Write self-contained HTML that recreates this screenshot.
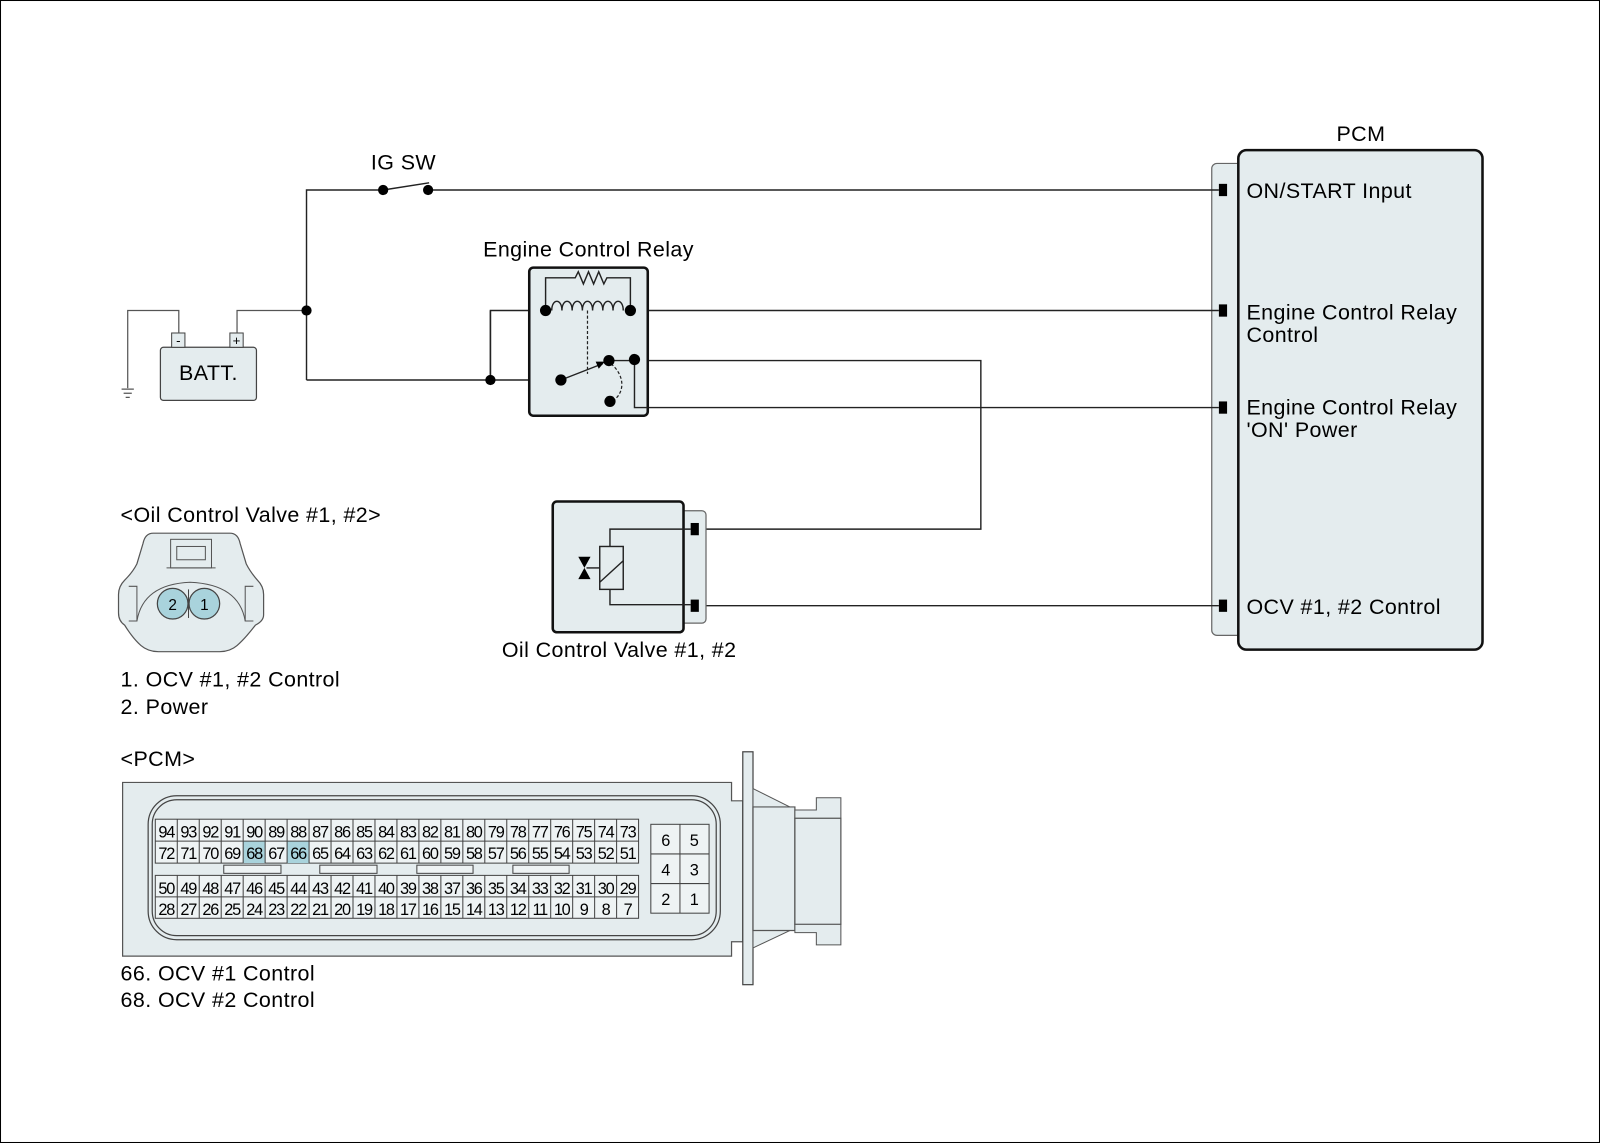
<!DOCTYPE html>
<html><head><meta charset="utf-8"><style>
html,body{margin:0;padding:0;background:#fff}
svg{display:block}
text{font-family:"Liberation Sans",Arial,sans-serif;fill:#000}
.t{font-size:21px;letter-spacing:0.4px}
</style></head><body>
<svg width="1600" height="1143" viewBox="0 0 1566 1119" preserveAspectRatio="none" xmlns="http://www.w3.org/2000/svg">
<rect x="0.5" y="0.5" width="1565" height="1118" fill="#fff" stroke="#000" stroke-width="1"/>

<!-- PCM -->
<text class="t" x="1332" y="138" text-anchor="middle">PCM</text>
<rect x="1186" y="160" width="30" height="462" rx="5" fill="#e4ecee" stroke="#666" stroke-width="1.2"/>
<rect x="1212" y="147" width="239" height="489" rx="8" fill="#e4ecee" stroke="#111" stroke-width="2.5"/>
<g fill="#000">
<rect x="1193" y="180" width="8" height="12"/>
<rect x="1193" y="298" width="8" height="12"/>
<rect x="1193" y="393" width="8" height="12"/>
<rect x="1193" y="587" width="8" height="12"/>
</g>
<g class="t">
<text class="t" x="1220" y="194">ON/START Input</text>
<text class="t" x="1220" y="313">Engine Control Relay</text>
<text class="t" x="1220" y="335">Control</text>
<text class="t" x="1220" y="406">Engine Control Relay</text>
<text class="t" x="1220" y="428">'ON' Power</text>
<text class="t" x="1220" y="601">OCV #1, #2 Control</text>
<text class="t" x="363" y="166">IG SW</text>
<text class="t" x="576" y="251" text-anchor="middle">Engine Control Relay</text>
<text class="t" x="606" y="643" text-anchor="middle">Oil Control Valve #1, #2</text>
<text class="t" x="118" y="511">&lt;Oil Control Valve #1, #2&gt;</text>
<text class="t" x="118" y="672">1. OCV #1, #2 Control</text>
<text class="t" x="118" y="699">2. Power</text>
<text class="t" x="118" y="750">&lt;PCM&gt;</text>
<text class="t" x="118" y="960">66. OCV #1 Control</text>
<text class="t" x="118" y="986">68. OCV #2 Control</text>
</g>

<!-- Battery -->
<rect x="157" y="340" width="94" height="52" rx="3" fill="#e4ecee" stroke="#444" stroke-width="1.2"/>
<text class="t" x="204" y="372" text-anchor="middle">BATT.</text>
<rect x="168" y="326" width="13" height="14" fill="#e4ecee" stroke="#444"/>
<rect x="225" y="326" width="13" height="14" fill="#e4ecee" stroke="#444"/>
<text x="174.5" y="338" font-size="13" text-anchor="middle">-</text>
<text x="231.5" y="338" font-size="13" text-anchor="middle">+</text>
<g stroke="#555" stroke-width="1.2" fill="none">
<path d="M175 326V304H125V380"/>
<path d="M119 381H131M121 385H129M123 389H127"/>
<path d="M232 326V304H300"/>
</g>

<!-- wires -->
<g stroke="#222" stroke-width="1.4" fill="none">
<path d="M300 372V186H375"/>
<path d="M375 186L420 179"/>
<path d="M419 186H1193"/>
<path d="M300 372H549"/>
<path d="M480 372V304H534"/>
<path d="M617 304H1193"/>
<path d="M596 353H960V518H680"/>
<path d="M621 352V399H1193"/>
<path d="M680 593H1193"/>
</g>

<!-- relay -->
<rect x="518" y="262" width="116" height="145" rx="4" fill="#e4ecee" stroke="#111" stroke-width="2.5"/>
<g stroke="#222" stroke-width="1.4" fill="none">
<path d="M480 304V372"/>
<path d="M534 304V272H563L566 266L571 278L576 266L581 278L586 266L591 278L594 272H617V304"/>
<path d="M540 304c0-12 10-12 10 0c0-12 10-12 10 0c0-12 10-12 10 0c0-12 10-12 10 0c0-12 10-12 10 0c0-12 10-12 10 0c0-12 10-12 10 0"/>
<path d="M575 304V366" stroke-dasharray="3,2" stroke-width="1.2"/>
<path d="M549 372L590 356"/>
<path d="M598 356C612 368 612 385 599 393" stroke-dasharray="3,2" stroke-width="1.2"/>
<path d="M596 353H621V399H634"/>
</g>
<path d="M592 354L583 354L586 361Z" fill="#000"/>
<g fill="#000">
<circle cx="300" cy="304" r="5"/>
<circle cx="375" cy="186" r="5"/>
<circle cx="419" cy="186" r="5"/>
<circle cx="480" cy="372" r="5"/>
<circle cx="534" cy="304" r="5.5"/>
<circle cx="617" cy="304" r="5.5"/>
<circle cx="549" cy="372" r="5.5"/>
<circle cx="596" cy="353" r="5.5"/>
<circle cx="621" cy="352" r="5.5"/>
<circle cx="597" cy="393" r="5.5"/>
</g>

<!-- OCV -->
<rect x="664" y="500" width="27" height="110" rx="4" fill="#e4ecee" stroke="#666" stroke-width="1.2"/>
<rect x="541" y="491" width="128" height="128" rx="4" fill="#e4ecee" stroke="#111" stroke-width="2.5"/>
<rect x="676" y="512" width="8" height="12" fill="#000"/>
<rect x="676" y="587" width="8" height="12" fill="#000"/>
<g stroke="#222" stroke-width="1.4" fill="none">
<path d="M676 518H597V535"/>
<path d="M597 577V592H676"/>
<rect x="587" y="535" width="23" height="42" fill="#e4ecee"/>
<path d="M587 570L610 549"/>
<path d="M574 556H587"/>
</g>
<path d="M566 545H578L572 556L578 567H566L572 556Z" fill="#000"/>

<!-- OCV connector -->
<path d="M150 522H225Q233 522 235 532L241 552Q245 560 252 568Q258 574 258 582V602Q258 608 250 612Q240 625 232 632Q225 638 215 638H155Q145 638 138 632Q130 625 122 612Q116 608 116 600V582Q116 574 122 568Q130 560 134 552L140 532Q142 522 150 522Z" fill="#e4ecee" stroke="#555" stroke-width="1.2"/>
<path d="M126 574H134V608H126M248 574H240V608H248" fill="none" stroke="#555"/>
<path d="M134 608Q140 572 186 570Q234 572 240 608" fill="none" stroke="#555"/>
<rect x="167" y="528" width="40" height="28" fill="#e4ecee" stroke="#555"/>
<rect x="173" y="535" width="28" height="13" fill="#e4ecee" stroke="#555"/>
<path d="M163 556H211" stroke="#555"/>
<circle cx="169" cy="591" r="15" fill="#a9d3dc" stroke="#444" stroke-width="1.2"/>
<circle cx="200" cy="591" r="15" fill="#a9d3dc" stroke="#444" stroke-width="1.2"/>
<path d="M184.5 577V605" stroke="#444"/>
<text x="169" y="597" font-size="15" text-anchor="middle">2</text>
<text x="200" y="597" font-size="15" text-anchor="middle">1</text>

<!-- PCM connector -->
<path d="M120 766H716V784H727V922H716V936H120Z" fill="#e4ecee" stroke="#555" stroke-width="1.2"/>
<rect x="145" y="779" width="560" height="141" rx="28" fill="none" stroke="#444" stroke-width="1.2"/>
<rect x="149" y="783" width="552" height="133" rx="24" fill="none" stroke="#444" stroke-width="1.2"/>
<rect x="727" y="736" width="10" height="228" fill="#e4ecee" stroke="#444" stroke-width="1.2"/>
<path d="M737 772L773 790V811H737Z" fill="#e4ecee" stroke="#555"/>
<path d="M737 928L773 911V894H737Z" fill="#e4ecee" stroke="#555"/>
<path d="M737 790H778V911H737Z" fill="#e4ecee" stroke="#555" stroke-width="1.2"/>
<path d="M778 801H823V905H778Z" fill="#e4ecee" stroke="#555" stroke-width="1.2"/>
<path d="M778 793H799V781H823V801H778ZM778 913H799V925H823V905H778Z" fill="#e4ecee" stroke="#555"/>

<rect x="152" y="802" width="473" height="43" fill="#eef3f4" stroke="#444" stroke-width="1"/>
<rect x="152" y="857" width="473" height="42" fill="#eef3f4" stroke="#444" stroke-width="1"/>
<rect x="238" y="823.5" width="21.5" height="21.5" fill="#a9d3dc"/>
<rect x="281" y="823.5" width="21.5" height="21.5" fill="#a9d3dc"/>
<g stroke="#444" stroke-width="1" fill="none">
<path d="M152 823.5H625M152 878H625"/>
<path d="M173.5 802V845M195 802V845M216.5 802V845M238 802V845M259.5 802V845M281 802V845M302.5 802V845M324 802V845M345.5 802V845M367 802V845M388.5 802V845M410 802V845M431.5 802V845M453 802V845M474.5 802V845M496 802V845M517.5 802V845M539 802V845M560.5 802V845M582 802V845M603.5 802V845"/>
<path d="M173.5 857V899M195 857V899M216.5 857V899M238 857V899M259.5 857V899M281 857V899M302.5 857V899M324 857V899M345.5 857V899M367 857V899M388.5 857V899M410 857V899M431.5 857V899M453 857V899M474.5 857V899M496 857V899M517.5 857V899M539 857V899M560.5 857V899M582 857V899M603.5 857V899"/>
<rect x="219" y="847" width="56" height="8" fill="#eef3f4"/>
<rect x="313" y="847" width="56" height="8" fill="#eef3f4"/>
<rect x="408" y="847" width="55" height="8" fill="#eef3f4"/>
<rect x="502" y="847" width="55" height="8" fill="#eef3f4"/>
<rect x="637" y="807" width="57" height="87" fill="#eef3f4"/>
<path d="M665.5 807V894M637 836H694M637 865H694"/>
</g>
<g font-size="16" text-anchor="middle" letter-spacing="-1.2">
<text y="820"><tspan x="162.75">94</tspan><tspan x="184.25">93</tspan><tspan x="205.75">92</tspan><tspan x="227.25">91</tspan><tspan x="248.75">90</tspan><tspan x="270.25">89</tspan><tspan x="291.75">88</tspan><tspan x="313.25">87</tspan><tspan x="334.75">86</tspan><tspan x="356.25">85</tspan><tspan x="377.75">84</tspan><tspan x="399.25">83</tspan><tspan x="420.75">82</tspan><tspan x="442.25">81</tspan><tspan x="463.75">80</tspan><tspan x="485.25">79</tspan><tspan x="506.75">78</tspan><tspan x="528.25">77</tspan><tspan x="549.75">76</tspan><tspan x="571.25">75</tspan><tspan x="592.75">74</tspan><tspan x="614.25">73</tspan></text>
<text y="841"><tspan x="162.75">72</tspan><tspan x="184.25">71</tspan><tspan x="205.75">70</tspan><tspan x="227.25">69</tspan><tspan x="248.75">68</tspan><tspan x="270.25">67</tspan><tspan x="291.75">66</tspan><tspan x="313.25">65</tspan><tspan x="334.75">64</tspan><tspan x="356.25">63</tspan><tspan x="377.75">62</tspan><tspan x="399.25">61</tspan><tspan x="420.75">60</tspan><tspan x="442.25">59</tspan><tspan x="463.75">58</tspan><tspan x="485.25">57</tspan><tspan x="506.75">56</tspan><tspan x="528.25">55</tspan><tspan x="549.75">54</tspan><tspan x="571.25">53</tspan><tspan x="592.75">52</tspan><tspan x="614.25">51</tspan></text>
<text y="875"><tspan x="162.75">50</tspan><tspan x="184.25">49</tspan><tspan x="205.75">48</tspan><tspan x="227.25">47</tspan><tspan x="248.75">46</tspan><tspan x="270.25">45</tspan><tspan x="291.75">44</tspan><tspan x="313.25">43</tspan><tspan x="334.75">42</tspan><tspan x="356.25">41</tspan><tspan x="377.75">40</tspan><tspan x="399.25">39</tspan><tspan x="420.75">38</tspan><tspan x="442.25">37</tspan><tspan x="463.75">36</tspan><tspan x="485.25">35</tspan><tspan x="506.75">34</tspan><tspan x="528.25">33</tspan><tspan x="549.75">32</tspan><tspan x="571.25">31</tspan><tspan x="592.75">30</tspan><tspan x="614.25">29</tspan></text>
<text y="896"><tspan x="162.75">28</tspan><tspan x="184.25">27</tspan><tspan x="205.75">26</tspan><tspan x="227.25">25</tspan><tspan x="248.75">24</tspan><tspan x="270.25">23</tspan><tspan x="291.75">22</tspan><tspan x="313.25">21</tspan><tspan x="334.75">20</tspan><tspan x="356.25">19</tspan><tspan x="377.75">18</tspan><tspan x="399.25">17</tspan><tspan x="420.75">16</tspan><tspan x="442.25">15</tspan><tspan x="463.75">14</tspan><tspan x="485.25">13</tspan><tspan x="506.75">12</tspan><tspan x="528.25">11</tspan><tspan x="549.75">10</tspan><tspan x="571.25">9</tspan><tspan x="592.75">8</tspan><tspan x="614.25">7</tspan></text>
<text y="828"><tspan x="651">6</tspan><tspan x="679">5</tspan></text>
<text y="857"><tspan x="651">4</tspan><tspan x="679">3</tspan></text>
<text y="886"><tspan x="651">2</tspan><tspan x="679">1</tspan></text>
</g>
</svg>
</body></html>
